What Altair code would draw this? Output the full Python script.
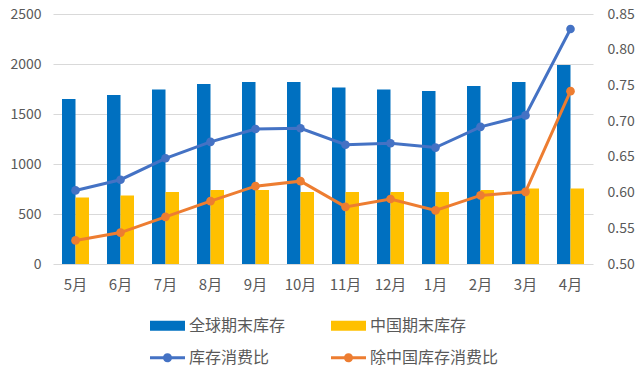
import altair as alt
import pandas as pd

months = ["5月", "6月", "7月", "8月", "9月", "10月", "11月", "12月", "1月", "2月", "3月", "4月"]
global_stock = [1650, 1690, 1745, 1800, 1820, 1820, 1765, 1745, 1730, 1780, 1820, 1990]
china_stock = [665, 685, 720, 740, 740, 720, 720, 720, 720, 740, 755, 755]
ratio = [0.603, 0.618, 0.648, 0.671, 0.689, 0.690, 0.667, 0.669, 0.663, 0.692, 0.708, 0.829]
ratio_ex_china = [0.533, 0.544, 0.566, 0.588, 0.609, 0.616, 0.580, 0.591, 0.575, 0.596, 0.601, 0.742]

bar_names = ["全球期末库存", "中国期末库存"]
line_names = ["库存消费比", "除中国库存消费比"]
bar_colors = ["#0070C0", "#FFC000"]
line_colors = ["#4472C4", "#ED7D31"]

left_ticks = [0, 500, 1000, 1500, 2000, 2500]
right_ticks = [0.50, 0.55, 0.60, 0.65, 0.70, 0.75, 0.80, 0.85]

FONT = "Noto Sans CJK SC"
TXT = "#595959"

bar_df = pd.DataFrame({
    "month": months * 2,
    "series": [bar_names[0]] * len(months) + [bar_names[1]] * len(months),
    "value": global_stock + china_stock,
})
line_df = pd.DataFrame({
    "month": months * 2,
    "series": [line_names[0]] * len(months) + [line_names[1]] * len(months),
    "value": ratio + ratio_ex_china,
})

x_enc = alt.X(
    "month:N", sort=months,
    scale=alt.Scale(paddingInner=0.4, paddingOuter=0.2),
    axis=alt.Axis(title=None, labelAngle=0, domain=False, ticks=False, labelPadding=13,
                  labelFontSize=15, labelFont=FONT, labelColor=TXT, grid=False),
)

bar_legend = alt.Legend(
    title=None, orient="none", legendX=97, legendY=294, direction="horizontal",
    symbolType="M-1,-0.28H1V0.28H-1Z", symbolSize=1225, symbolStrokeWidth=0,
    labelFontSize=16, labelFont=FONT, labelColor=TXT, labelOffset=4, columnPadding=45,
)

line_sym = ("M-1,-0.09H1V0.09H-1Z "
            "M-0.26,0A0.26,0.26,0,1,1,0.26,0A0.26,0.26,0,1,1,-0.26,0Z")
line_legend = alt.Legend(
    title=None, orient="none", legendX=97, legendY=326, direction="horizontal",
    symbolType=line_sym, symbolSize=1225, symbolStrokeWidth=0, symbolOpacity=1,
    labelFontSize=16, labelFont=FONT, labelColor=TXT, labelOffset=4, columnPadding=61,
)

bars = alt.Chart(bar_df).mark_bar().encode(
    x=x_enc,
    xOffset=alt.XOffset("series:N", sort=bar_names, scale=alt.Scale(paddingInner=0, paddingOuter=0)),
    y=alt.Y("value:Q", scale=alt.Scale(domain=[0, 2500], nice=False),
            axis=alt.Axis(title=None, values=left_ticks, format="d", domain=False, ticks=False,
                          labelPadding=12, labelFontSize=14, labelFont=FONT, labelColor=TXT,
                          gridColor="#D9D9D9", gridWidth=1)),
    fill=alt.Fill("series:N", scale=alt.Scale(domain=bar_names, range=bar_colors), legend=bar_legend),
)

right_axis = alt.Axis(title=None, orient="right", values=right_ticks, format=".2f", domain=False,
                      ticks=False, grid=False, labelPadding=14, labelFontSize=14, labelFont=FONT,
                      labelColor=TXT)
y_right = alt.Y("value:Q", scale=alt.Scale(domain=[0.5, 0.85], nice=False, zero=False), axis=right_axis)
color_enc = alt.Color("series:N", scale=alt.Scale(domain=line_names, range=line_colors), legend=line_legend)

lines = alt.Chart(line_df).mark_line(strokeWidth=3).encode(
    x=x_enc, y=y_right, color=color_enc, detail="series:N",
)
points = alt.Chart(line_df).mark_circle(size=75, opacity=1).encode(
    x=x_enc, y=y_right, color=color_enc,
)

chart = alt.layer(bars, alt.layer(lines, points)).resolve_scale(y="independent").properties(
    width=540, height=250, autosize=alt.AutoSizeParams(type="none"),
    padding={"left": 45, "top": 6, "right": 42, "bottom": 105},
).configure_view(stroke=None)

chart.save("out.html", embed_options={"renderer": "svg", "actions": False})
